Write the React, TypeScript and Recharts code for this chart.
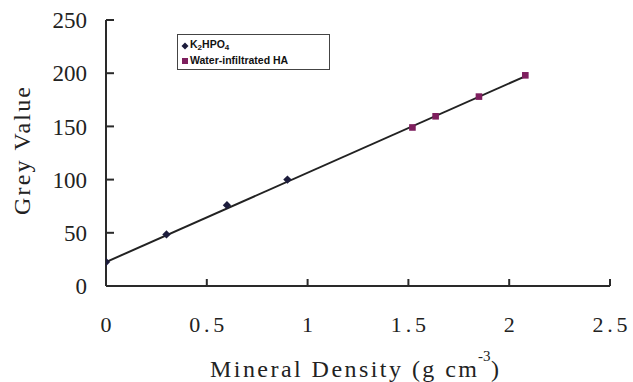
import React from "react";
import { ComposedChart, Scatter, XAxis, YAxis } from "recharts";

const k2hpo4X = [0, 0.3, 0.6, 0.9];
const k2hpo4Y = [22.5, 48.5, 76, 100];
const haX = [1.52, 1.635, 1.85, 2.08];
const haY = [149, 159.5, 178, 198];
const fitX = [0, 2.09];
const fitY = [22.5, 198];
const xTicks = [0, 0.5, 1, 1.5, 2, 2.5];
const yTicks = [0, 50, 100, 150, 200, 250];

const k2Data = k2hpo4X.map((x, i) => ({ x, y: k2hpo4Y[i] }));
const haData = haX.map((x, i) => ({ x, y: haY[i] }));
const fitData = fitX.map((x, i) => ({ x, y: fitY[i] }));

const AXIS = "#2a2a2a";
const K2_COLOR = "#1c1c3c";
const HA_COLOR = "#7e1f5e";
const SERIF = "Liberation Serif";
const TEXT = "#222";

const Diamond = (p: any) => {
  const { cx, cy } = p;
  const r = 4.2;
  return (
    <polygon
      points={`${cx},${cy - r} ${cx + r},${cy} ${cx},${cy + r} ${cx - r},${cy}`}
      fill={K2_COLOR}
    />
  );
};

const Square = (p: any) => {
  const { cx, cy } = p;
  const r = 3.3;
  return <rect x={cx - r} y={cy - r} width={2 * r} height={2 * r} fill={HA_COLOR} />;
};

const NoShape = () => null;

const renderXTick = (p: any) => {
  const { x, payload } = p;
  const ls = 3.8;
  return (
    <g>
      <text
        x={x + ls / 2}
        y={332}
        textAnchor="middle"
        fontFamily="Times New Roman"
        fontSize={22}
        letterSpacing={ls}
        fill={TEXT}
      >
        {String(payload.value)}
      </text>
    </g>
  );
};

const LegendBox = () => (
  <div
    style={{
      position: "absolute",
      left: 177,
      top: 34,
      border: "1px solid #444",
      width: 153,
      height: 36,
      boxSizing: "border-box",
      padding: "3px 0 0 3px",
      fontFamily: "Liberation Sans, Arial, sans-serif",
      fontSize: 10.5,
      fontWeight: "bold",
      color: "#111",
      lineHeight: "13px",
      background: "#fff",
    }}
  >
    <div style={{ display: "flex", alignItems: "center" }}>
      <svg width={8} height={8} style={{ marginRight: 1 }}>
        <polygon points="4,0.5 7.5,4 4,7.5 0.5,4" fill={K2_COLOR} />
      </svg>
      <span>
        K<sub style={{ fontSize: 8, verticalAlign: -2 }}>2</sub>HPO
        <sub style={{ fontSize: 8, verticalAlign: -2 }}>4</sub>
      </span>
    </div>
    <div style={{ display: "flex", alignItems: "center" }}>
      <svg width={8} height={8} style={{ marginRight: 1 }}>
        <rect x={1} y={1} width={6} height={6} fill={HA_COLOR} />
      </svg>
      <span>Water-infiltrated HA</span>
    </div>
  </div>
);

export default function App() {
  return (
    <div style={{ position: "absolute", left: 0, top: 0, width: 633, height: 382, background: "#fff" }}>
      <ComposedChart
        width={633}
        height={382}
        margin={{ top: 20, right: 23, left: 0, bottom: 0 }}
      >
        <XAxis
          type="number"
          dataKey="x"
          domain={[0, 2.5]}
          ticks={xTicks}
          interval={0}
          height={96}
          stroke={AXIS}
          strokeWidth={2}
          tickSize={-7}
          tick={renderXTick}
          allowDataOverflow
        />
        <YAxis
          type="number"
          dataKey="y"
          domain={[0, 250]}
          ticks={yTicks}
          interval={0}
          width={106}
          stroke={AXIS}
          strokeWidth={2}
          tickSize={-8}
          tickMargin={27}
          tick={{ fontFamily: SERIF, fontSize: 23, fill: TEXT, stroke: "none" }}
        />
        <Scatter
          name="fit"
          data={fitData}
          line={{ stroke: "#222", strokeWidth: 2 }}
          shape={<NoShape />}
          isAnimationActive={false}
          legendType="none"
        />
        <Scatter name="K2HPO4" data={k2Data} shape={<Diamond />} isAnimationActive={false} />
        <Scatter name="Water-infiltrated HA" data={haData} shape={<Square />} isAnimationActive={false} />
        <text
          x={30}
          y={215}
          transform="rotate(-90 30 215)"
          textAnchor="start"
          fontFamily={SERIF}
          fontSize={24}
          textLength={128}
          lengthAdjust="spacing"
          fill={TEXT}
        >
          Grey Value
        </text>
        <text
          x={210}
          y={377}
          textAnchor="start"
          fontFamily={SERIF}
          fontSize={24}
          textLength={267}
          lengthAdjust="spacing"
          fill={TEXT}
        >
          Mineral Density (g cm
        </text>
        <text x={478} y={361} textAnchor="start" fontFamily={SERIF} fontSize={15} fill={TEXT}>
          -3
        </text>
        <text x={491} y={377} textAnchor="start" fontFamily={SERIF} fontSize={24} fill={TEXT}>
          )
        </text>
      </ComposedChart>
      <LegendBox />
    </div>
  );
}
